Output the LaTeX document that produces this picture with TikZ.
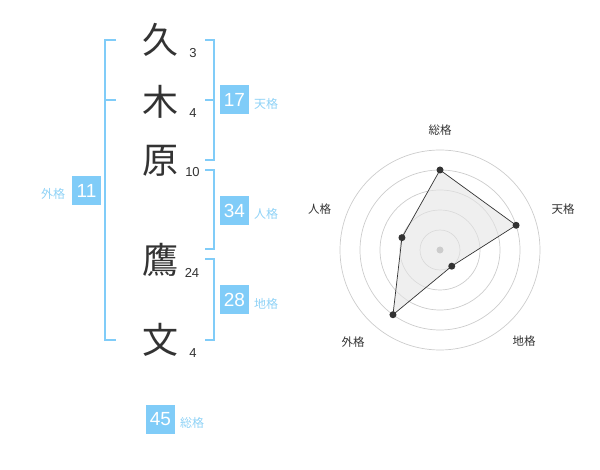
\documentclass[tikz,border=0pt]{standalone}
\usepackage{fontspec}
\setmainfont{Liberation Sans}
\newfontfamily\jp{Noto Sans CJK JP}
\definecolor{boxblue}{HTML}{80CCF8}
\definecolor{lblblue}{HTML}{8FD2F6}
\definecolor{ink}{HTML}{333333}
\definecolor{ring}{HTML}{CCCCCC}
\begin{document}
\begin{tikzpicture}[x=1pt,y=-1pt,
  kanji/.style={font=\jp\fontsize{36}{36}\selectfont, text=ink, inner sep=0pt},
  strokes/.style={font=\fontsize{13}{13}\selectfont, text=ink, inner sep=0pt},
  valbox/.style={fill=boxblue, text=white, minimum width=29pt, minimum height=29pt, inner sep=0pt, font=\fontsize{19}{19}\selectfont},
  kakulbl/.style={text=lblblue, inner sep=0pt, font=\jp\fontsize{12}{12}\selectfont},
  brk/.style={draw=boxblue, line width=2pt},
  axlbl/.style={text=ink, inner sep=0pt, font=\jp\fontsize{11.5}{12}\selectfont},
  dot/.style={circle, fill=ink, inner sep=0pt, minimum size=7pt}
]
\useasboundingbox (0,0) rectangle (600,470);

% kanji
\node[kanji] (k1) at (160,40) {久};
\node[kanji] (k2) at (160,102) {木};
\node[kanji] (k3) at (160,161) {原};
\node[kanji] (k4) at (160,260) {鷹};
\node[kanji] (k5) at (160,340) {文};
% stroke counts
\node[strokes] (s1) at (193,53) {3};
\node[strokes] (s2) at (193,113) {4};
\node[strokes] (s3) at (192.5,172.5) {10};
\node[strokes] (s4) at (192,273) {24};
\node[strokes] (s5) at (193,353) {4};

% brackets
\draw[brk] (116,40) -- (105,40) -- (105,340) -- (116,340);
\draw[brk] (105,100) -- (116,100);
\draw[brk] (205,40) -- (214,40) -- (214,160) -- (205,160);
\draw[brk] (205,100) -- (214,100);
\draw[brk] (205,170) -- (214,170) -- (214,249.5) -- (205,249.5);
\draw[brk] (205,259.5) -- (214,259.5) -- (214,340) -- (205,340);

% value boxes
\node[valbox] (b11) at (86.5,190.5) {11};
\node[kakulbl] (l11) at (53,193.5) {外格};
\node[valbox] (b17) at (234.5,100) {17};
\node[kakulbl] (l17) at (266,104) {天格};
\node[valbox] (b34) at (234.5,210.5) {34};
\node[kakulbl] (l34) at (266,213.5) {人格};
\node[valbox] (b28) at (234.5,300) {28};
\node[kakulbl] (l28) at (266,303.5) {地格};
\node[valbox] (b45) at (160.5,419) {45};
\node[kakulbl] (l45) at (192,422.5) {総格};

% radar chart
\begin{scope}[shift={(440,250)}]
  \coordinate (c) at (0pt,0pt);
  \foreach \r in {20,40,60,80,100} {
    \draw[ring, line width=0.7pt] (c) circle[radius=\r pt];
  }
  \coordinate (p1) at (90:80pt);
  \coordinate (p2) at (18:80pt);
  \coordinate (p3) at (-54:20pt);
  \coordinate (p4) at (-126:80pt);
  \coordinate (p5) at (162:40pt);
  \fill[black!10, fill opacity=0.6] (p1) -- (p2) -- (p3) -- (p4) -- (p5) -- cycle;
  \fill[ring] (c) circle[radius=3.5pt];
  \draw[ink, line width=0.7pt] (p1) -- (p2) -- (p3) -- (p4) -- (p5) -- cycle;
  \node[dot] (d1) at (p1) {};
  \node[dot] (d2) at (p2) {};
  \node[dot] (d3) at (p3) {};
  \node[dot] (d4) at (p4) {};
  \node[dot] (d5) at (p5) {};
\end{scope}
\node[axlbl] (a1) at (440,130.5) {総格};
\node[axlbl] (a2) at (563,209) {天格};
\node[axlbl] (a3) at (524,341) {地格};
\node[axlbl] (a4) at (353,342) {外格};
\node[axlbl] (a5) at (319.5,209) {人格};
\end{tikzpicture}
\end{document}
